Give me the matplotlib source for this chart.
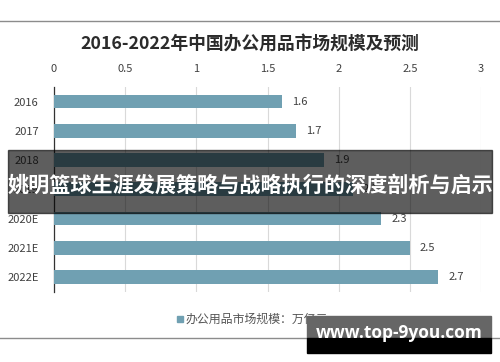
import matplotlib.pyplot as plt
from matplotlib.patches import Rectangle
from matplotlib.lines import Line2D

plt.rcParams['font.family'] = ['Noto Sans CJK SC', 'DejaVu Sans']

years = ['2016', '2017', '2018', '2019', '2020E', '2021E', '2022E']
values = [1.6, 1.7, 1.9, 2.1, 2.3, 2.5, 2.7]
xticks = [0, 0.5, 1, 1.5, 2, 2.5, 3]
xtick_labels = ['0', '0.5', '1', '1.5', '2', '2.5', '3']

title = '2016-2022年中国办公用品市场规模及预测'
legend_label = '办公用品市场规模：万亿元'
banner = '姚明篮球生涯发展策略与战略执行的深度剖析与启示'
watermark = 'www.top-9you.com'

bar_color = '#70a0b2'

fig = plt.figure(figsize=(5, 3.62), dpi=100)
ax = fig.add_axes([0.108, 0.194, 0.854, 0.566])

ypos = list(range(len(years)))
ax.barh(ypos, values, height=0.47, color=bar_color, zorder=3)
for y, v in zip(ypos, values):
    ax.text(v + 0.07, y, f'{v}', va='center', ha='left', fontsize=8, color='#404040')

ax.set_xlim(0, 3)
ax.set_ylim(len(years) - 0.5, -0.5)
ax.set_yticks(ypos)
ax.set_yticklabels(years, fontsize=8, color='#404040')
ax.set_xticks(xticks)
ax.set_xticklabels(xtick_labels, fontsize=8, color='#404040')
ax.xaxis.tick_top()
ax.tick_params(axis='y', length=0, pad=11)
ax.tick_params(axis='x', length=0, pad=9)
ax.grid(axis='x', color='#d9d9d9', linewidth=0.8, zorder=0)
for s in ['top', 'right', 'bottom']:
    ax.spines[s].set_visible(False)
ax.spines['left'].set_color('#333333')
ax.spines['left'].set_linewidth(0.9)

fig.text(0.5, 0.878, title, ha='center', va='center', fontsize=12.8,
         fontweight='bold', color='#2b2b2b')

# legend
fig.patches.append(Rectangle((0.354, 0.111), 0.012, 0.017, transform=fig.transFigure,
                             color=bar_color, figure=fig))
fig.text(0.372, 0.119, legend_label, ha='left', va='center', fontsize=8.6, color='#555555')

# frame lines
fig.lines.append(Line2D([0, 1], [0.943, 0.943], transform=fig.transFigure,
                        color='#8c8c8c', linewidth=1))
fig.lines.append(Line2D([0, 1], [0.066, 0.066], transform=fig.transFigure,
                        color='#8c8c8c', linewidth=1))

# banner overlay
fig.patches.append(Rectangle((0.016, 0.412), 0.968, 0.174, transform=fig.transFigure,
                             color='black', alpha=0.63, zorder=10, figure=fig))
fig.text(0.5, 0.487, banner, ha='center', va='center', fontsize=15.2,
         fontweight='bold', color='white', zorder=11)

# watermark
fig.patches.append(Rectangle((0.614, 0.066), 0.368, 0.061, transform=fig.transFigure,
                             color='#666666', zorder=10, figure=fig))
fig.patches.append(Rectangle((0.614, 0.025), 0.368, 0.041, transform=fig.transFigure,
                             color='black', zorder=10, figure=fig))
fig.text(0.798, 0.08, watermark, ha='center', va='center', fontsize=12.5,
         fontweight='bold', color='white', family=['Open Sans', 'DejaVu Sans'], zorder=11)

fig.savefig('out.png', dpi=100, facecolor='white')
